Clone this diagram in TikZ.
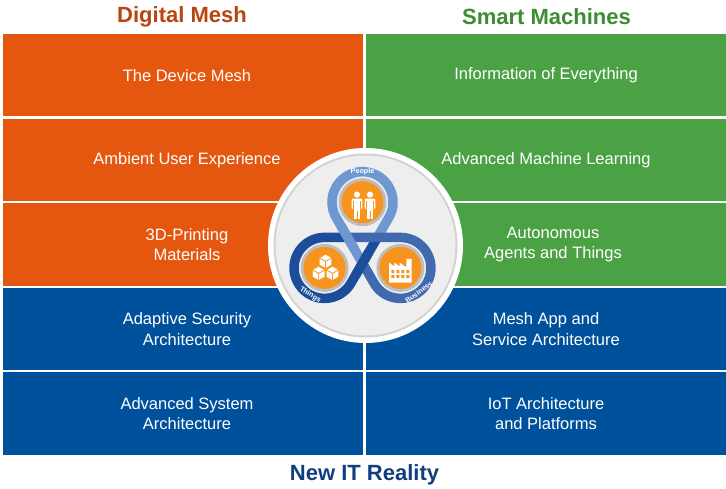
\documentclass[tikz,border=0pt]{standalone}
\usepackage{fontspec}
\setmainfont{Liberation Sans}
\usetikzlibrary{calc}

\definecolor{meshorange}{HTML}{E5560F}
\definecolor{smartgreen}{HTML}{4AA244}
\definecolor{realblue}{HTML}{00519B}
\definecolor{meshtitle}{HTML}{B8450F}
\definecolor{smarttitle}{HTML}{3D8C34}
\definecolor{realtitle}{HTML}{103F7D}
\definecolor{hubgray}{HTML}{EEEEEE}
\definecolor{hubshade}{HTML}{D2D2D2}
\definecolor{iconorange}{HTML}{F7941E}
\definecolor{iconring}{HTML}{BDBDBD}
\definecolor{peopleblue}{HTML}{6F98D2}
\definecolor{businessblue}{HTML}{4069B0}
\definecolor{thingsblue}{HTML}{1C4D9B}

\tikzset{
  cell/.style={rectangle, minimum width=360pt, minimum height=82.4pt, inner sep=0pt,
    text=white, align=center, font=\fontsize{16.5}{20.5}\selectfont},
  heading/.style={inner sep=0pt, font=\fontsize{22}{26}\selectfont\bfseries},
  band/.style={line width=9.5pt},
  bandlabel/.style={inner sep=0pt, text=white, font=\fontsize{7.2}{8}\selectfont\bfseries},
}

\begin{document}
\begin{tikzpicture}[x=1pt, y=1pt]
    \useasboundingbox (0,0) rectangle (726,489);
    \fill[white] (0,0) rectangle (726,489);

    % Define the headings above and below the grid
    \node[heading, text=meshtitle] (meshhead) at (182,472) {Digital Mesh};
    \node[heading, text=smarttitle] (smarthead) at (546.5,472) {Smart Machines};
    \node[heading, text=realtitle] (realhead) at (364.5,14) {New IT Reality};

    % Define the cells of the grid, five rows in two columns
    \node[cell, fill=meshorange] (mesh1) at (183,413.8) {\hspace*{8pt}The Device Mesh};
    \node[cell, fill=meshorange] (mesh2) at (183,329.2) {\hspace*{8pt}Ambient User Experience};
    \node[cell, fill=meshorange] (mesh3) at (183,244.6) {\hspace*{8pt}3D-Printing\\\hspace*{8pt}Materials};
    \node[cell, fill=smartgreen] (smart1) at (546,413.8) {Information of Everything};
    \node[cell, fill=smartgreen] (smart2) at (546,329.2) {Advanced Machine Learning};
    \node[cell, fill=smartgreen] (smart3) at (546,244.6) {\hspace*{14pt}Autonomous\\\hspace*{14pt}Agents and Things};
    \node[cell, fill=realblue] (real1) at (183,160) {\hspace*{8pt}Adaptive Security\\\hspace*{8pt}Architecture};
    \node[cell, fill=realblue] (real2) at (546,160) {Mesh App and\\Service Architecture};
    \node[cell, fill=realblue] (real3) at (183,75.4) {\hspace*{8pt}Advanced System\\\hspace*{8pt}Architecture};
    \node[cell, fill=realblue] (real4) at (546,75.4) {IoT Architecture\\and Platforms};

    % Define the hub disc in the middle of the grid
    \coordinate (hub) at (365.5,243.5);
    \fill[white] (hub) circle[radius=97.5pt];
    \fill[hubshade] (hub) circle[radius=92pt];
    \fill[hubgray] (hub) circle[radius=90pt];

    % Define the centres of the three lobes and the tangent points of the band
    \coordinate (knot) at (362.5,243);
    \coordinate (people) at ($(knot)+(90:43.8)$);
    \coordinate (things) at ($(knot)+(210:43.8)$);
    \coordinate (business) at ($(knot)+(330:43.8)$);
    \coordinate (p1) at ($(people)+(210:30.5)$);
    \coordinate (p2) at ($(people)+(330:30.5)$);
    \coordinate (b1) at ($(business)+(210:30.5)$);
    \coordinate (b2) at ($(business)+(90:30.5)$);
    \coordinate (t1) at ($(things)+(90:30.5)$);
    \coordinate (t2) at ($(things)+(330:30.5)$);

    % Draw the band round each lobe, then the parts that pass over
    \draw[band, peopleblue] ($(t2)!0.7!(p2)$) -- (p2) arc[start angle=-30, end angle=210, radius=30.5pt] -- ($(p1)!0.7!(b1)$);
    \draw[band, businessblue] ($(p1)!0.7!(b1)$) -- (b1) arc[start angle=210, end angle=450, radius=30.5pt] -- ($(b2)!0.7!(t1)$);
    \draw[band, thingsblue] ($(b2)!0.7!(t1)$) -- (t1) arc[start angle=90, end angle=330, radius=30.5pt] -- ($(t2)!0.7!(p2)$);
    \draw[band, peopleblue] ($(p1)!0.12!(b1)$) -- ($(p1)!0.48!(b1)$);
    \draw[band, businessblue] ($(b2)!0.12!(t1)$) -- ($(b2)!0.48!(t1)$);
    \draw[band, thingsblue] ($(t2)!0.12!(p2)$) -- ($(t2)!0.48!(p2)$);

    % Draw the labels on the band
    \node[bandlabel] (peoplelabel) at ($(people)+(90:30.5)$) {People};
    \node[bandlabel, rotate=-32] (thingslabel) at ($(things)+(242:30.5)$) {Things};
    \node[bandlabel, rotate=37] (businesslabel) at ($(business)+(307:30.5)$) {Business};

    % Draw the orange discs
    \fill[iconring] (people) circle[radius=24pt];
    \fill[iconorange] (people) circle[radius=21pt];
    \fill[iconring] (things) circle[radius=24pt];
    \fill[iconorange] (things) circle[radius=21pt];
    \fill[iconring] (business) circle[radius=24pt];
    \fill[iconorange] (business) circle[radius=21pt];

    % Draw the two people
    \begin{scope}[shift={($(people)+(-5.5,0)$)}]
        \fill[white] (0,7.6) circle[radius=3.1pt];
        \fill[white, rounded corners=1pt] (-5.3,-7) rectangle (5.3,3.6);
        \fill[white] (-3.4,-17) rectangle (3.4,-6);
        \draw[iconorange, line width=0.8pt] (0,-17) -- (0,-8.5) (-3.5,-7.2) -- (-3.5,1.5) (3.5,-7.2) -- (3.5,1.5);
    \end{scope}
    \begin{scope}[shift={($(people)+(7.5,0)$)}]
        \fill[white] (0,7.6) circle[radius=3.1pt];
        \fill[white, rounded corners=1pt] (-5.3,-7) rectangle (5.3,3.6);
        \fill[white] (-3.4,-17) rectangle (3.4,-6);
        \draw[iconorange, line width=0.8pt] (0,-17) -- (0,-8.5) (-3.5,-7.2) -- (-3.5,1.5) (3.5,-7.2) -- (3.5,1.5);
    \end{scope}

    % Draw the stacked cubes
    \begin{scope}[shift={($(things)+(-5.9,-5.5)$)}]
        \filldraw[white, draw=iconorange, line width=0.8pt] (90:7.3) -- (30:7.3) -- (-30:7.3) -- (-90:7.3) -- (210:7.3) -- (150:7.3) -- cycle;
        \draw[iconorange, line width=0.8pt] (150:7.3) -- (0,0) -- (30:7.3) (0,0) -- (-90:7.3);
    \end{scope}
    \begin{scope}[shift={($(things)+(7.9,-5.5)$)}]
        \filldraw[white, draw=iconorange, line width=0.8pt] (90:7.3) -- (30:7.3) -- (-30:7.3) -- (-90:7.3) -- (210:7.3) -- (150:7.3) -- cycle;
        \draw[iconorange, line width=0.8pt] (150:7.3) -- (0,0) -- (30:7.3) (0,0) -- (-90:7.3);
    \end{scope}
    \begin{scope}[shift={($(things)+(1,6.5)$)}]
        \filldraw[white, draw=iconorange, line width=0.8pt] (90:7.3) -- (30:7.3) -- (-30:7.3) -- (-90:7.3) -- (210:7.3) -- (150:7.3) -- cycle;
        \draw[iconorange, line width=0.8pt] (150:7.3) -- (0,0) -- (30:7.3) (0,0) -- (-90:7.3);
    \end{scope}

    % Draw the factory
    \begin{scope}[shift={(business)}]
        \fill[white] (-11.3,-14.7) -- (-11.3,5.3) -- (-6,1.3) -- (-6,5.3) -- (-0.7,1.3) -- (-0.7,5.3) -- (4.6,1.3) -- (6,1.3) -- (6,9) -- (11.3,9) -- (11.3,-14.7) -- cycle;
        \fill[iconorange] (-9,-5.2) rectangle ++(3,3) (-4,-5.2) rectangle ++(3,3) (1,-5.2) rectangle ++(3,3) (6,-5.2) rectangle ++(3,3)
                          (-9,-10.2) rectangle ++(3,3) (-4,-10.2) rectangle ++(3,3) (1,-10.2) rectangle ++(3,3) (6,-10.2) rectangle ++(3,3);
    \end{scope}
\end{tikzpicture}
\end{document}
